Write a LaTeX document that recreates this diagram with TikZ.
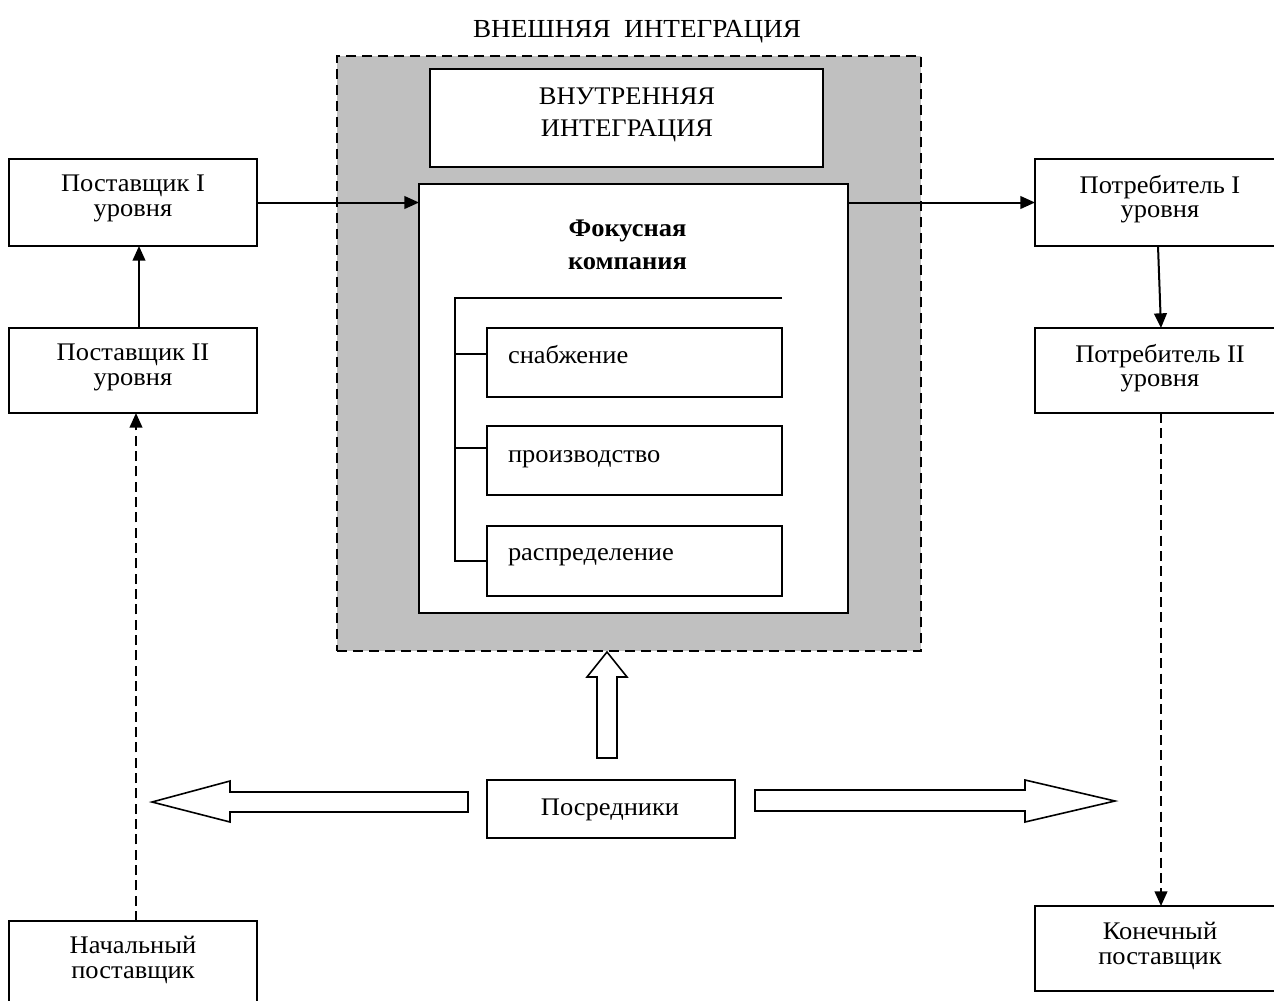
\documentclass[tikz,border=0pt]{standalone}
\usepackage{fontspec}
\setmainfont{Liberation Serif}[FakeStretch=1.045]
\usetikzlibrary{arrows.meta}
\definecolor{shade}{RGB}{192,192,192}
\begin{document}
\begin{tikzpicture}[x=0.75pt,y=-0.75pt,
  every node/.style={inner sep=0pt, outer sep=0pt},
  frame/.style={draw, line width=1.5pt, fill=white, rectangle},
  lbl/.style={font=\fontsize{19}{18.5}\selectfont, align=center},
  wide/.style={font=\fontsize{19}{24}\selectfont, align=center},
  conn/.style={line width=1.5pt, -{Triangle[length=11pt,width=9.5pt]}},
  dconn/.style={conn, dash pattern=on 7.5pt off 4pt},
  hollow/.style={draw, line width=1.2pt, fill=white, line join=miter}]
\useasboundingbox (0,0) rectangle (1274,1000);

% outer (external integration) zone
\node[font=\fontsize{19.5}{19.5}\selectfont, anchor=base] (ttl) at (637,37) {ВНЕШНЯЯ\ \ ИНТЕГРАЦИЯ};
\node[draw, fill=shade, line width=1.5pt, dash pattern=on 7.5pt off 4.5pt,
      minimum width=438pt, minimum height=446.25pt] (ext) at (629,353.5) {};

% internal integration
\node[frame, minimum width=294.75pt, minimum height=73.5pt] (int) at (626.5,118) {};
\node[wide, anchor=north] (intt) at (627,88) {ВНУТРЕННЯЯ\\ИНТЕГРАЦИЯ};

% focal company with its functions
\node[frame, minimum width=321.75pt, minimum height=321.75pt] (foc) at (633.5,398.5) {};
\node[wide, anchor=north, font=\fontsize{19}{24.75}\selectfont\bfseries] (foct) at (627.5,220) {Фокусная\\компания};

\node[frame, minimum width=221.25pt, minimum height=51.75pt] (sb1) at (634.5,362.5) {};
\node[frame, minimum width=221.25pt, minimum height=51.75pt] (sb2) at (634.5,460.5) {};
\node[frame, minimum width=221.25pt, minimum height=52.5pt]  (sb3) at (634.5,561) {};
\node[lbl, anchor=base west] (sb1t) at (508,363) {снабжение};
\node[lbl, anchor=base west] (sb2t) at (508,462) {производство};
\node[lbl, anchor=base west] (sb3t) at (508,560) {распределение};

\coordinate (br) at (455,298);
\draw[line width=1.5pt] (sb1.east |- br) -- (br) |- (sb3.west);
\draw[line width=1.5pt] (br |- 0,354) -- (sb1.west |- 0,354);
\draw[line width=1.5pt] (br |- 0,448) -- (sb2.west |- 0,448);

% suppliers
\node[frame, minimum width=186pt, minimum height=65.25pt] (s1) at (133,202.5) {};
\node[lbl, anchor=north] (s1t) at (133,175) {Поставщик I\\уровня};
\node[frame, minimum width=186pt, minimum height=63.75pt] (s2) at (133,370.5) {};
\node[lbl, anchor=north] (s2t) at (133,344) {Поставщик II\\уровня};
\node[frame, minimum width=186pt, minimum height=65.25pt] (n0) at (133,964.5) {};
\node[lbl, anchor=north] (n0t) at (133,936) {Начальный\\поставщик};

% consumers
\node[frame, minimum width=187.5pt, minimum height=65.25pt] (c1) at (1160,202.5) {};
\node[lbl, anchor=north] (c1t) at (1160,175) {Потребитель I\\уровня};
\node[frame, minimum width=187.5pt, minimum height=63.75pt] (c2) at (1160,370.5) {};
\node[lbl, anchor=north] (c2t) at (1160,344) {Потребитель II\\уровня};
\node[frame, minimum width=187.5pt, minimum height=63.75pt] (n9) at (1160,948.5) {};
\node[lbl, anchor=north] (n9t) at (1160,922) {Конечный\\поставщик};

% intermediaries
\node[frame, minimum width=186pt, minimum height=43.5pt] (mid) at (611,809) {};
\node[lbl, anchor=base] (midt) at (610,815) {Посредники};

% material flow
\draw[conn] (s1.east) -- (s1.east -| foc.west);
\draw[conn] (foc.east |- c1.west) -- (c1.west);
\draw[conn] ([xshift=4.5pt]s2.north) -- ([xshift=4.5pt]s1.south);
\draw[conn] ([xshift=-1.5pt]c1.south) -- ([xshift=0.75pt]c2.north);
\draw[dconn] ([xshift=2.25pt]n0.north) -- ([xshift=2.25pt]s2.south);
\draw[dconn] ([xshift=0.75pt]c2.south) -- ([xshift=0.75pt]n9.north);

% block arrows from the intermediaries
\draw[hollow] (597,758) -- (597,677) -- (587,677) -- (607,652) -- (627,677) -- (617,677) -- (617,758) -- cycle;
\draw[hollow] (468,792) -- (230,792) -- (230,781) -- (152,802) -- (230,822) -- (230,812) -- (468,812) -- cycle;
\draw[hollow] (755,790) -- (1025,790) -- (1025,780) -- (1115,801) -- (1025,822) -- (1025,811) -- (755,811) -- cycle;
\end{tikzpicture}
\end{document}
